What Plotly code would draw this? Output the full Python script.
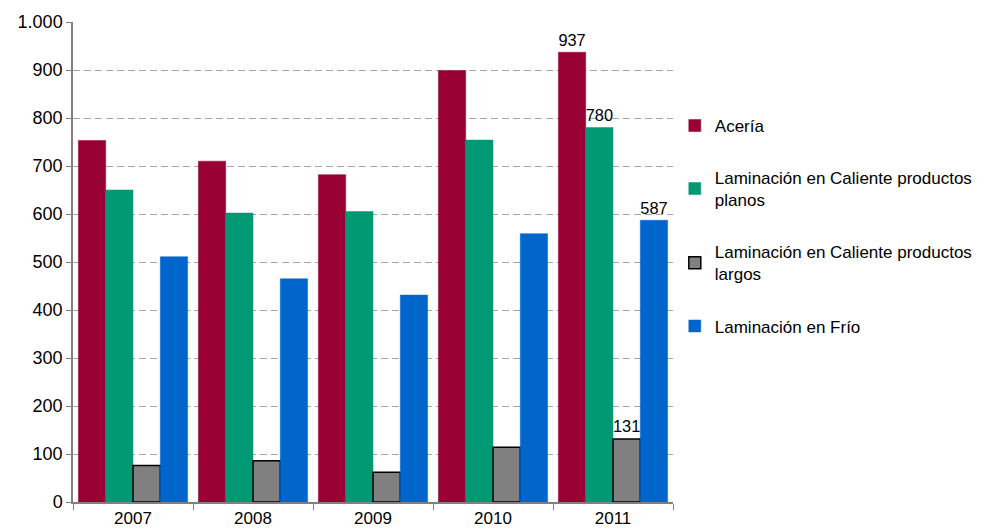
import plotly.graph_objects as go

years = ["2007", "2008", "2009", "2010", "2011"]
aceria = [753, 710, 682, 899, 937]
caliente_planos = [650, 602, 605, 754, 780]
caliente_largos = [76, 86, 62, 114, 131]
frio = [511, 465, 431, 559, 587]

names = ["Acería",
         "Laminación en Caliente productos<br>planos",
         "Laminación en Caliente productos<br>largos",
         "Laminación en Frío"]
colors = ["#990033", "#009973", "#808080", "#0066CC"]
series = [aceria, caliente_planos, caliente_largos, frio]


def last_label(values):
    # only the last year carries a data label
    return [""] * (len(values) - 1) + [str(values[-1])]


fig = go.Figure()
for i, (name, vals, col) in enumerate(zip(names, series, colors)):
    line = dict(color="#000000", width=1.5) if i == 2 else dict(color=col, width=0.5)
    fig.add_trace(go.Bar(
        x=years, y=vals, name=name,
        marker=dict(color=col, line=line),
        text=last_label(vals), textposition="outside",
        textfont=dict(size=18, color="#000000"),
        cliponaxis=False,
        legendgroup=str(i),
    ))

# page body has an 8px margin, so the figure is 8px smaller on each side
fig.update_layout(
    width=974, height=523,
    margin=dict(l=65, r=309, t=14, b=29, autoexpand=False),
    barmode="group", bargap=0.09, bargroupgap=0,
    plot_bgcolor="white", paper_bgcolor="white",
    font=dict(family="Liberation Sans, Arial, sans-serif", size=17, color="#000000"),
    separators=",.",
    showlegend=True,
    legend=dict(x=1.003, y=0.821, xanchor="left", yanchor="top",
                tracegroupgap=27, font=dict(size=17),
                itemwidth=30, traceorder="grouped"),
    xaxis=dict(showline=True, linecolor="#808080", linewidth=1.5,
               ticks="outside", tickson="boundaries", ticklen=6,
               tickcolor="#808080", tickfont=dict(size=17)),
    yaxis=dict(range=[0, 1000], dtick=100, tickformat=",",
               showline=True, linecolor="#808080", linewidth=1.5,
               ticks="outside", ticklen=5, tickcolor="#808080",
               showgrid=True, gridcolor="#A6A6A6", griddash="7px,4px", gridwidth=1,
               zeroline=False, tickfont=dict(size=18)),
)

fig.write_html("out.html")
